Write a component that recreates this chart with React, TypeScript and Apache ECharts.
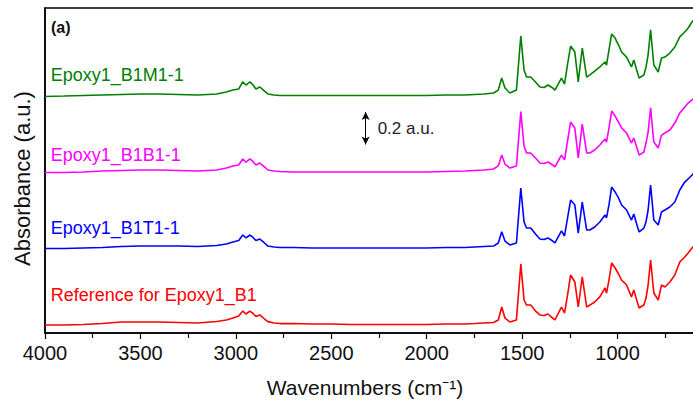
import React, { useEffect, useRef } from "react";
import * as echarts from "echarts";

// Wavenumber grid (cm^-1) shared by all spectra
const wavenumbers = [
  4000, 3900, 3800, 3700, 3600, 3500, 3400, 3300, 3200, 3100, 3050, 3015, 2985, 2964, 2947, 2926, 2910, 2895, 2874,
  2850, 2832, 2800, 2769, 2700, 2600, 2500, 2400, 2300, 2200, 2100, 2000, 1900, 1800, 1750, 1700, 1650, 1625, 1607,
  1590, 1564, 1530, 1507, 1490, 1477, 1455, 1430, 1407, 1385, 1365, 1340, 1328, 1294, 1278, 1262, 1246, 1224, 1206,
  1185, 1162, 1145, 1120, 1093, 1066, 1058, 1045, 1031, 1013, 995, 979, 953, 927, 915, 900, 887, 862, 851, 840, 827,
  810, 787, 770, 752, 726, 700, 674, 648, 630, 610, 600,
];

// Absorbance (a.u., offset for stacking)
const referenceB1 = [
  0.049, 0.049, 0.052, 0.058, 0.068, 0.068, 0.068, 0.065, 0.062, 0.071, 0.08, 0.092, 0.105, 0.135, 0.117, 0.135, 0.12,
  0.102, 0.111, 0.086, 0.07, 0.062, 0.058, 0.058, 0.055, 0.055, 0.052, 0.052, 0.052, 0.052, 0.052, 0.055, 0.055, 0.058,
  0.062, 0.065, 0.08, 0.16, 0.092, 0.068, 0.08, 0.425, 0.203, 0.172, 0.172, 0.135, 0.111, 0.108, 0.117, 0.092, 0.08,
  0.16, 0.123, 0.234, 0.357, 0.314, 0.16, 0.345, 0.16, 0.172, 0.191, 0.222, 0.277, 0.246, 0.326, 0.431, 0.4, 0.363,
  0.326, 0.295, 0.222, 0.265, 0.203, 0.154, 0.172, 0.215, 0.295, 0.449, 0.246, 0.203, 0.295, 0.283, 0.314, 0.357,
  0.437, 0.468, 0.492, 0.523, 0.535,
];

const epoxyB1T1 = [
  0.52, 0.52, 0.523, 0.526, 0.532, 0.535, 0.535, 0.535, 0.532, 0.538, 0.548, 0.56, 0.569, 0.603, 0.585, 0.603, 0.588,
  0.569, 0.578, 0.554, 0.535, 0.529, 0.526, 0.526, 0.523, 0.523, 0.523, 0.523, 0.523, 0.523, 0.523, 0.526, 0.526,
  0.529, 0.532, 0.535, 0.554, 0.623, 0.566, 0.542, 0.554, 0.892, 0.683, 0.646, 0.646, 0.609, 0.578, 0.575, 0.585,
  0.566, 0.554, 0.628, 0.597, 0.708, 0.818, 0.788, 0.615, 0.806, 0.634, 0.634, 0.652, 0.683, 0.726, 0.708, 0.788,
  0.898, 0.868, 0.831, 0.788, 0.757, 0.695, 0.732, 0.671, 0.622, 0.646, 0.683, 0.757, 0.911, 0.695, 0.665, 0.745,
  0.757, 0.775, 0.806, 0.88, 0.929, 0.948, 0.972, 0.985,
];

const epoxyB1B1 = [
  0.988, 0.988, 0.991, 0.997, 1.0, 1.003, 1.003, 1.0, 0.997, 1.003, 1.015, 1.028, 1.034, 1.071, 1.052, 1.071, 1.055,
  1.034, 1.046, 1.022, 1.003, 0.997, 0.994, 0.991, 0.991, 0.991, 0.991, 0.991, 0.991, 0.991, 0.991, 0.994, 0.997, 1.0,
  1.003, 1.009, 1.028, 1.095, 1.04, 1.015, 1.028, 1.362, 1.151, 1.108, 1.108, 1.077, 1.046, 1.043, 1.052, 1.034,
  1.022, 1.095, 1.065, 1.182, 1.298, 1.262, 1.077, 1.286, 1.108, 1.108, 1.126, 1.157, 1.194, 1.175, 1.262, 1.366,
  1.335, 1.298, 1.262, 1.231, 1.169, 1.2, 1.145, 1.095, 1.114, 1.169, 1.237, 1.385, 1.175, 1.138, 1.218, 1.231, 1.249,
  1.292, 1.354, 1.391, 1.415, 1.434, 1.446,
];

const epoxyB1M1 = [
  1.455, 1.458, 1.462, 1.465, 1.468, 1.471, 1.471, 1.468, 1.465, 1.471, 1.483, 1.495, 1.502, 1.545, 1.526, 1.545,
  1.526, 1.502, 1.514, 1.489, 1.471, 1.465, 1.462, 1.462, 1.462, 1.462, 1.462, 1.462, 1.462, 1.462, 1.462, 1.465,
  1.465, 1.468, 1.471, 1.477, 1.495, 1.569, 1.508, 1.477, 1.495, 1.828, 1.618, 1.575, 1.575, 1.545, 1.514, 1.511,
  1.526, 1.508, 1.495, 1.569, 1.532, 1.655, 1.766, 1.729, 1.545, 1.754, 1.575, 1.588, 1.612, 1.637, 1.668, 1.649,
  1.742, 1.84, 1.815, 1.772, 1.729, 1.698, 1.637, 1.68, 1.618, 1.569, 1.588, 1.637, 1.711, 1.865, 1.649, 1.606,
  1.692, 1.698, 1.723, 1.76, 1.822, 1.852, 1.877, 1.914, 1.926,
];

const seriesNames = ["Reference for Epoxy1_B1", "Epoxy1_B1T1-1", "Epoxy1_B1B1-1", "Epoxy1_B1M1-1"];
const seriesColors = ["#ff0000", "#0000ff", "#ff00ff", "#008000"];
const seriesValues = [referenceB1, epoxyB1T1, epoxyB1B1, epoxyB1M1];
// Label anchors in data space: [wavenumber, absorbance]
const labelAnchors: [number, number][] = [
  [3970, 0.234],
  [3970, 0.646],
  [3970, 1.095],
  [3970, 1.588],
];

// Scale bar: 0.2 a.u.
const scaleBarWavenumber = 2320;
const scaleBarFrom = 1.16;
const scaleBarTo = 1.36;

const FONT = "'Liberation Sans', Arial, sans-serif";

export default function App() {
  const ref = useRef<HTMLDivElement>(null);

  useEffect(() => {
    if (!ref.current) return;
    const chart = echarts.init(ref.current, undefined, { renderer: "svg" });

    const series: any[] = seriesValues.map((vals, i) => ({
      name: seriesNames[i],
      type: "line",
      data: wavenumbers.map((w, j) => [w, vals[j]]),
      showSymbol: false,
      symbol: "none",
      lineStyle: { color: seriesColors[i], width: 1.6 },
      itemStyle: { color: seriesColors[i] },
      silent: true,
      z: 3,
    }));

    series.push({
      name: "scale",
      type: "line",
      data: [],
      silent: true,
      markLine: {
        silent: true,
        symbol: ["arrow", "arrow"],
        symbolSize: [6, 8],
        label: { show: false },
        lineStyle: { color: "#000", width: 1, type: "solid" },
        emphasis: { disabled: true },
        data: [
          [
            { coord: [scaleBarWavenumber, scaleBarFrom] },
            { coord: [scaleBarWavenumber, scaleBarTo] },
          ],
        ],
      },
    });

    chart.setOption({
      animation: false,
      grid: {
        left: 45,
        top: 8,
        right: -20,
        bottom: 67,
        outerBoundsMode: "none",
        containLabel: false,
        show: true,
        borderColor: "#000",
        borderWidth: 1.5,
        backgroundColor: "transparent",
      },
      xAxis: {
        type: "value",
        inverse: true,
        min: 500,
        max: 4000,
        interval: 500,
        name: "Wavenumbers (cm\u207B\u00B9)",
        nameLocation: "middle",
        nameGap: 44,
        nameTextStyle: { fontFamily: FONT, fontSize: 21, color: "#111", padding: [0, 28, 0, 0] },
        axisLine: { show: true, lineStyle: { color: "#000", width: 1.5 } },
        axisTick: { show: true, inside: false, length: 6, lineStyle: { color: "#000", width: 1.2 } },
        minorTick: { show: true, splitNumber: 2, length: 5, lineStyle: { color: "#000", width: 1.2 } },
        axisLabel: {
          fontFamily: FONT,
          fontSize: 20,
          color: "#111",
          margin: 10,
          showMinLabel: false,
          formatter: (v: number) => String(v),
        },
        splitLine: { show: false },
      },
      yAxis: {
        type: "value",
        min: 0,
        max: 2,
        name: "Absorbance (a.u.)",
        nameLocation: "middle",
        nameGap: 12,
        nameTextStyle: { fontFamily: FONT, fontSize: 22, color: "#111", padding: [0, 16, 0, 0] },
        axisLine: { show: true, lineStyle: { color: "#000", width: 1.5 } },
        axisTick: { show: false },
        axisLabel: { show: false },
        splitLine: { show: false },
      },
      series,
    });

    const graphics: any[] = [];
    labelAnchors.forEach((a, i) => {
      const p = chart.convertToPixel({ gridIndex: 0 }, a) as number[];
      graphics.push({
        type: "text",
        x: p[0],
        y: p[1],
        silent: true,
        style: {
          text: seriesNames[i],
          fill: seriesColors[i],
          font: `18px ${FONT}`,
          textAlign: "left",
          textVerticalAlign: "middle",
        },
      });
    });
    const sp = chart.convertToPixel({ gridIndex: 0 }, [
      scaleBarWavenumber,
      (scaleBarFrom + scaleBarTo) / 2,
    ]) as number[];
    graphics.push({
      type: "text",
      x: sp[0] + 12,
      y: sp[1],
      silent: true,
      style: {
        text: "0.2 a.u.",
        fill: "#222",
        font: `17px ${FONT}`,
        textAlign: "left",
        textVerticalAlign: "middle",
      },
    });
    graphics.push({
      type: "text",
      x: 51,
      y: 27,
      silent: true,
      style: {
        text: "(a)",
        fill: "#111",
        font: `bold 16px ${FONT}`,
        textAlign: "left",
        textVerticalAlign: "middle",
      },
    });
    chart.setOption({ graphic: graphics });

    return () => chart.dispose();
  }, []);

  return <div ref={ref} style={{ width: 693, height: 400, position: "absolute", left: 0, top: 0 }} />;
}
